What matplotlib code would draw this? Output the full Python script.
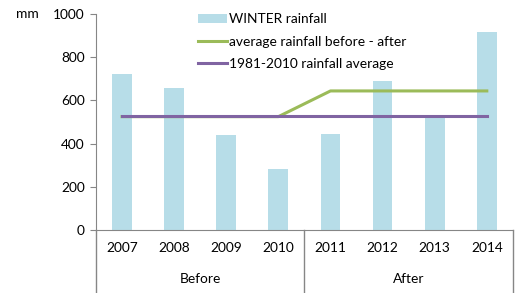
import numpy as np
import matplotlib
matplotlib.use("Agg")
import matplotlib.pyplot as plt
import matplotlib.transforms as mtransforms

# Winter rainfall data
years = ["2007", "2008", "2009", "2010", "2011", "2012", "2013", "2014"]
rainfall = [722, 657, 440, 281, 444, 690, 523, 918]
avg_before_after = [525, 525, 525, 525, 644, 644, 644, 644]
avg_1981_2010 = [530, 530, 530, 530, 530, 530, 530, 530]
groups = ["Before", "After"]
group_sizes = [4, 4]

plt.rcParams['font.family'] = ['Lato', 'DejaVu Sans']
fs = 9.9

fig = plt.figure(figsize=(5.17, 2.93), dpi=100)
ax = fig.add_axes([0.1857, 0.215, 0.8063, 0.737])

x = np.arange(len(years))
bars = ax.bar(x, rainfall, width=0.38, color="#b7dde8", label="WINTER rainfall", zorder=1)
l1, = ax.plot(x, avg_before_after, color="#9bbb59", lw=2.2, label="average rainfall before - after", zorder=2)
l2, = ax.plot(x, avg_1981_2010, color="#8064a2", lw=2.2, label="1981-2010 rainfall average", zorder=3)

ax.set_xlim(-0.5, len(years) - 0.5)
ax.set_ylim(0, 1000)
ax.set_yticks(range(0, 1001, 200))
ax.tick_params(axis="y", labelsize=fs, length=4, color="#868686", pad=4)
ax.set_xticks([])

for s in ["top", "right"]:
    ax.spines[s].set_visible(False)
ax.spines["left"].set_color("#868686")
ax.spines["bottom"].set_color("#868686")

# two-level category axis
trans = mtransforms.blended_transform_factory(ax.transData, ax.transAxes)
for i, yr in enumerate(years):
    ax.text(i, -0.085, yr, transform=trans, ha="center", va="center", fontsize=fs)
start = 0
bounds = [-0.5]
for g, n in zip(groups, group_sizes):
    ax.text(start + (n - 1) / 2, -0.225, g, transform=trans, ha="center", va="center", fontsize=fs)
    start += n
    bounds.append(start - 0.5)
for b in bounds:
    ax.plot([b, b], [0, -0.3], transform=trans, color="#868686", lw=1, clip_on=False)

fig.text(0.03, 0.952, "mm", ha="left", va="center", fontsize=fs)

ax.legend(handles=[bars, l1, l2], loc="upper left", bbox_to_anchor=(0.228, 1.035), frameon=False,
          fontsize=fs, handlelength=2.1, handletextpad=0.15, labelspacing=0.75,
          borderpad=0)

fig.savefig("out.png", dpi=100)
